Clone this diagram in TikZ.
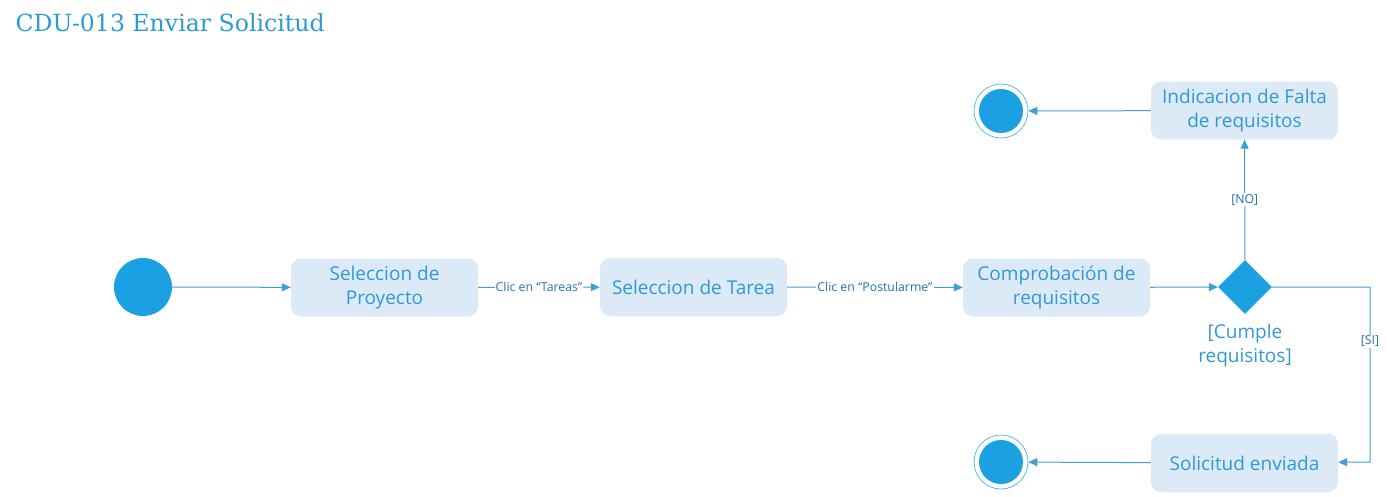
\documentclass[tikz,border=0pt]{standalone}
\usepackage{fontspec}
\setmainfont{Open Sans}
\newfontfamily\titlefont{DejaVu Serif}
\usetikzlibrary{shapes.geometric,arrows.meta}
\definecolor{umlblue}{HTML}{1BA1E2}
\definecolor{umlline}{HTML}{3D9FD6}
\definecolor{umltext}{HTML}{2E9AD5}
\definecolor{umlfill}{HTML}{DCE9F7}
\definecolor{umllabel}{HTML}{2173AD}

\begin{document}
\begin{tikzpicture}[x=1pt, y=-1pt,
  act/.style     ={fill=umlfill, rounded corners=10pt, inner sep=2pt,
                   minimum width=187pt, minimum height=58pt, align=center,
                   font=\fontsize{19}{24}\selectfont, text=umltext},
  start/.style   ={circle, fill=umlblue, minimum size=58pt, inner sep=0pt},
  final/.style   ={circle, draw=umlblue!80, line width=0.7pt, minimum size=54pt,
                   inner sep=0pt,
                   path picture={\fill[umlblue] (path picture bounding box.center) circle (22pt);}},
  decision/.style={diamond, fill=umlblue, minimum width=54pt, minimum height=54pt,
                   inner sep=0pt},
  guard/.style   ={fill=white, inner sep=1pt, text=umllabel,
                   font=\fontsize{12.3}{15}\selectfont},
  arr/.style     ={-{Triangle[length=9pt, width=8pt]}, umlline, line width=1pt}
]
  \useasboundingbox (0,0) rectangle (1387,496);
  \node[anchor=west, text=umltext, font=\titlefont\fontsize{23.6}{28}\selectfont]
        (title) at (12,23) {CDU-013 Enviar Solicitud};

  \node[start]    (ini)   at (143,287)     {};
  \node[act]      (proy)  at (384.5,287.5) {Seleccion de\\Proyecto};
  \node[act]      (tarea) at (693.5,287)   {Seleccion de Tarea};
  \node[act]      (req)   at (1056.5,287.5){Comprobación de\\requisitos};
  \node[decision] (dec)   at (1245,287)    {};
  \node[act]      (falta) at (1244.5,110.5){Indicacion de Falta\\de requisitos};
  \node[act]      (env)   at (1244.5,463)  {Solicitud enviada};
  \node[final]    (finA)  at (1001,111)    {};
  \node[final]    (finB)  at (1001,462)    {};
  \node[align=center, text=umltext, font=\fontsize{19}{24}\selectfont]
        (cumple) at (1245,346) {[Cumple\\requisitos]};
  \coordinate (esq1) at (1370,287);
  \coordinate (esq2) at (1370,462);

  \draw[arr] (ini) -- (proy);
  \draw[arr] (proy) -- node[guard] {Clic en “Tareas”} (tarea);
  \draw[arr] (tarea) -- node[guard] {Clic en “Postularme”} (req);
  \draw[arr] (req) -- (dec);
  \draw[arr] (dec) -- node[guard] {[NO]} (falta);
  \draw[arr] (falta) -- (finA);
  \draw[arr] (dec.east) -- (esq1) -- node[guard, pos=0.31] {[SI]} (esq2) -- (env);
  \draw[arr] (env) -- (finB);
\end{tikzpicture}
\end{document}
